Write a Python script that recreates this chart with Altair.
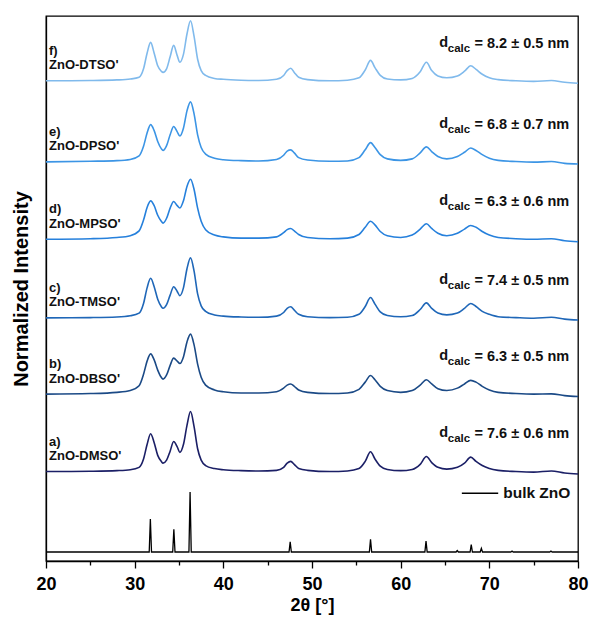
import altair as alt
import pandas as pd

# 2-theta grid at which the measured patterns were read
THETA = [20, 25, 28, 29.5, 30.5, 31.0, 31.4, 31.8, 32.2, 32.6,
         33.0, 33.2, 33.6, 34.0, 34.4, 34.8, 35.1, 35.5, 35.9, 36.3,
         36.7, 37.1, 37.5, 38.0, 39, 40, 42, 44, 46, 46.8,
         47.2, 47.6, 48.0, 48.5, 49.5, 52, 54, 55.3, 56.0, 56.6,
         57.1, 57.7, 58.5, 60, 61.3, 62.2, 62.9, 63.5, 64.2, 65.2,
         66.4, 67.2, 67.9, 68.5, 69.2, 70, 71, 73, 75, 77,
         78.5, 80]

# normalized intensities (% of strongest reflection)
INT_A = [0, 0.5, 1.5, 3, 7, 21, 45, 63, 48, 27,
         17, 14, 19, 34, 50, 41, 32, 45, 77, 100,
         75, 38, 19, 10, 5, 3, 1.5, 1, 2, 7,
         14, 17, 12, 5, 2, 0, 1, 5, 17, 33,
         21, 9, 3.5, 1.5, 3.5, 12, 25, 15, 7, 4,
         7, 14, 24, 17, 10, 5, 2, 0, -1, 1,
         -2.5, -4]
INT_B = [0, 1, 3, 6, 14, 33, 55, 67, 57, 40,
         28, 25, 32, 48, 60, 55, 51, 62, 87, 100,
         82, 50, 28, 15, 7, 4, 2, 2, 4, 10,
         15, 17, 13, 7, 3, 1, 2, 8, 20, 31,
         24, 13, 6, 3, 6, 15, 24, 17, 9, 6,
         10, 17, 23, 20, 13, 7, 3, 1, 0, 0.5,
         -2.5, -4]
INT_C = [0, 0.5, 1.5, 3.5, 8, 24, 50, 66, 52, 31,
         19, 16, 22, 38, 52, 44, 37, 50, 82, 100,
         78, 40, 20, 11, 5, 3, 1.5, 1, 3, 9,
         16, 18.5, 13, 6, 2, 0.5, 1, 6, 19, 34,
         23, 10, 4, 2, 4, 14, 25, 16, 8, 5,
         8, 16, 24, 19, 11, 6, 2, 0.5, -0.5, 1,
         -2, -3.5]
INT_D = [0, 1, 3, 6, 14, 32, 53, 64, 56, 40,
         30, 27, 35, 52, 63, 56, 52, 64, 88, 100,
         83, 52, 30, 16, 7, 4, 2, 2, 4, 11,
         16, 18, 14, 8, 3, 1, 2, 8, 20, 30,
         24, 13, 6, 3, 7, 17, 26, 18, 10, 6,
         10, 17, 23, 20, 13, 7, 3, 1, 0, 1,
         -2.5, -4]
INT_E = [0, 1, 2, 4, 10, 26, 48, 62, 52, 34,
         22, 19, 27, 45, 59, 50, 43, 56, 85, 100,
         80, 45, 24, 13, 6, 3.5, 2, 1.5, 4, 11,
         18, 20, 15, 7, 3, 1, 1.5, 7, 20, 32,
         24, 12, 5, 2.5, 5, 15, 25, 17, 9, 5,
         9, 16, 23, 19, 12, 6, 2.5, 0.5, -0.5, 0.5,
         -2.5, -3.5]
INT_F = [0, 0.5, 1.5, 3, 6, 20, 46, 64, 46, 25,
         16, 14, 20, 40, 59, 42, 31, 44, 78, 100,
         74, 36, 17, 9, 4, 2.5, 1, 0.5, 2.5, 9,
         17, 21, 14, 6, 2, 0, 1, 5, 18, 34,
         22, 9, 3, 1.5, 4, 15, 31, 17, 8, 5,
         8, 16, 25, 19, 11, 5, 2, 0, -1, 0.5,
         -2.5, -4]

SAMPLES = ["a", "b", "c", "d", "e", "f"]
LETTERS = ["a)", "b)", "c)", "d)", "e)", "f)"]
NAMES = ["ZnO-DMSO'", "ZnO-DBSO'", "ZnO-TMSO'", "ZnO-MPSO'", "ZnO-DPSO'", "ZnO-DTSO'"]
DCALC = ["= 7.6 ± 0.6 nm", "= 6.3 ± 0.5 nm", "= 7.4 ± 0.5 nm",
         "= 6.3 ± 0.6 nm", "= 6.8 ± 0.7 nm", "= 8.2 ± 0.5 nm"]
OFFSETS = [149, 278, 405, 536, 665, 800]
COLORS = ["#1b1f66", "#1b4a86", "#1f67b8", "#2680dc", "#3c95e5", "#80baec"]

# bulk ZnO reference reflections (position, relative intensity)
BULK_POS = [31.77, 34.42, 36.25, 47.54, 56.60, 62.86, 66.38, 67.96, 69.10, 72.56, 76.95]
BULK_INT = [55, 38, 100, 17, 21, 18, 2.5, 12.5, 6, 1.5, 1.5]
BULK_OFFSET = 15

INTS = [INT_A, INT_B, INT_C, INT_D, INT_E, INT_F]

rows = []
for s, off, ints in zip(SAMPLES, OFFSETS, INTS):
    for t, v in zip(THETA, ints):
        rows.append({"theta": t, "y": off + v, "sample": s})
curves = pd.DataFrame(rows)

brows = [{"theta": 20, "y": BULK_OFFSET, "order": 0}]
k = 1
for p, h in zip(BULK_POS, BULK_INT):
    for t, v in ((p - 0.13, 0), (p, h), (p + 0.13, 0)):
        brows.append({"theta": t, "y": BULK_OFFSET + v, "order": k})
        k += 1
brows.append({"theta": 80, "y": BULK_OFFSET, "order": k})
bulk = pd.DataFrame(brows)

labels = pd.DataFrame({
    "sample": SAMPLES,
    "letter": LETTERS,
    "name": NAMES,
    "dcalc": DCALC,
    "y_letter": [o + 50 for o in OFFSETS],
    "y_name": [o + 26 for o in OFFSETS],
    "y_d": [o + 62 for o in OFFSETS],
})

FONT = "Liberation Sans"
xs = alt.Scale(domain=[20, 80], nice=False, zero=False)
ys = alt.Scale(domain=[0, 908], nice=False, zero=False)

x_axis = alt.Axis(
    title="2θ [°]",
    values=list(range(20, 81, 5)),
    labelExpr="datum.value % 10 === 0 ? datum.label : ''",
    tickSize={"condition": {"test": "datum.value % 10 === 0", "value": 7}, "value": 4},
    tickWidth=1.3, domainWidth=1.3,
    labelFontSize=18, labelFontWeight="bold", labelPadding=7,
    labelFlush=False, labelOverlap=False,
    titleFontSize=18, titleFontWeight="bold", titlePadding=3,
    grid=False,
)
y_axis = alt.Axis(
    title="Normalized Intensity", ticks=False, labels=False, grid=False,
    domainWidth=1.3, titleFontSize=20, titleFontWeight="bold", titlePadding=15,
)

lines = alt.Chart(curves).mark_line(interpolate="monotone", strokeWidth=1.6).encode(
    x=alt.X("theta:Q", scale=xs, axis=x_axis),
    y=alt.Y("y:Q", scale=ys, axis=y_axis),
    color=alt.Color("sample:N", scale=alt.Scale(domain=SAMPLES, range=COLORS), legend=None),
)

bulk_line = alt.Chart(bulk).mark_line(color="black", strokeWidth=1.3).encode(
    x=alt.X("theta:Q", scale=xs),
    y=alt.Y("y:Q", scale=ys),
    order="order:Q",
)

lab_base = alt.Chart(labels)
letter_t = lab_base.mark_text(align="left", baseline="middle", dx=3, fontSize=13,
                              fontWeight="bold", font=FONT, color="#111").encode(
    x=alt.datum(20), y=alt.Y("y_letter:Q", scale=ys), text="letter:N")
name_t = lab_base.mark_text(align="left", baseline="middle", dx=3, fontSize=13,
                            fontWeight="bold", font=FONT, color="#111").encode(
    x=alt.datum(20), y=alt.Y("y_name:Q", scale=ys), text="name:N")
dmain_t = lab_base.mark_text(align="right", baseline="middle", fontSize=14.5,
                             fontWeight="bold", font=FONT, color="#111").encode(
    x=alt.datum(79), y=alt.Y("y_d:Q", scale=ys), text="dcalc:N")
dsub_t = lab_base.mark_text(align="right", baseline="middle", dx=-99, dy=5, fontSize=11.5,
                            fontWeight="bold", font=FONT, color="#111").encode(
    x=alt.datum(79), y=alt.Y("y_d:Q", scale=ys), text=alt.value("calc"))
dd_t = lab_base.mark_text(align="right", baseline="middle", dx=-121, dy=-1, fontSize=14.5,
                          fontWeight="bold", font=FONT, color="#111").encode(
    x=alt.datum(79), y=alt.Y("y_d:Q", scale=ys), text=alt.value("d"))

LEG_X = [66.9]
LEG_X2 = [71.0]
LEG_Y = [113]
leg = pd.DataFrame({"x": LEG_X, "x2": LEG_X2, "y": LEG_Y, "label": ["bulk ZnO"]})
leg_rule = alt.Chart(leg).mark_rule(color="black", strokeWidth=1.4).encode(
    x=alt.X("x:Q", scale=xs), x2="x2:Q", y=alt.Y("y:Q", scale=ys))
leg_text = alt.Chart(leg).mark_text(align="left", baseline="middle", dx=5, fontSize=15.5,
                                    fontWeight="bold", font=FONT, color="#111").encode(
    x=alt.X("x2:Q", scale=xs), y=alt.Y("y:Q", scale=ys), text="label:N")

chart = alt.layer(
    bulk_line, lines, letter_t, name_t, dmain_t, dsub_t, dd_t, leg_rule, leg_text
).properties(
    width=532, height=545,
    padding={"left": 46, "top": 16, "right": 13, "bottom": 56},
    autosize=alt.AutoSizeParams(type="none"),
).configure_view(
    stroke="black", strokeWidth=1.3
).configure_axis(
    domainColor="black", tickColor="black", labelColor="black", titleColor="black",
    labelFont=FONT, titleFont=FONT,
)

chart.save("out.html", embed_options={"renderer": "svg", "actions": False})
